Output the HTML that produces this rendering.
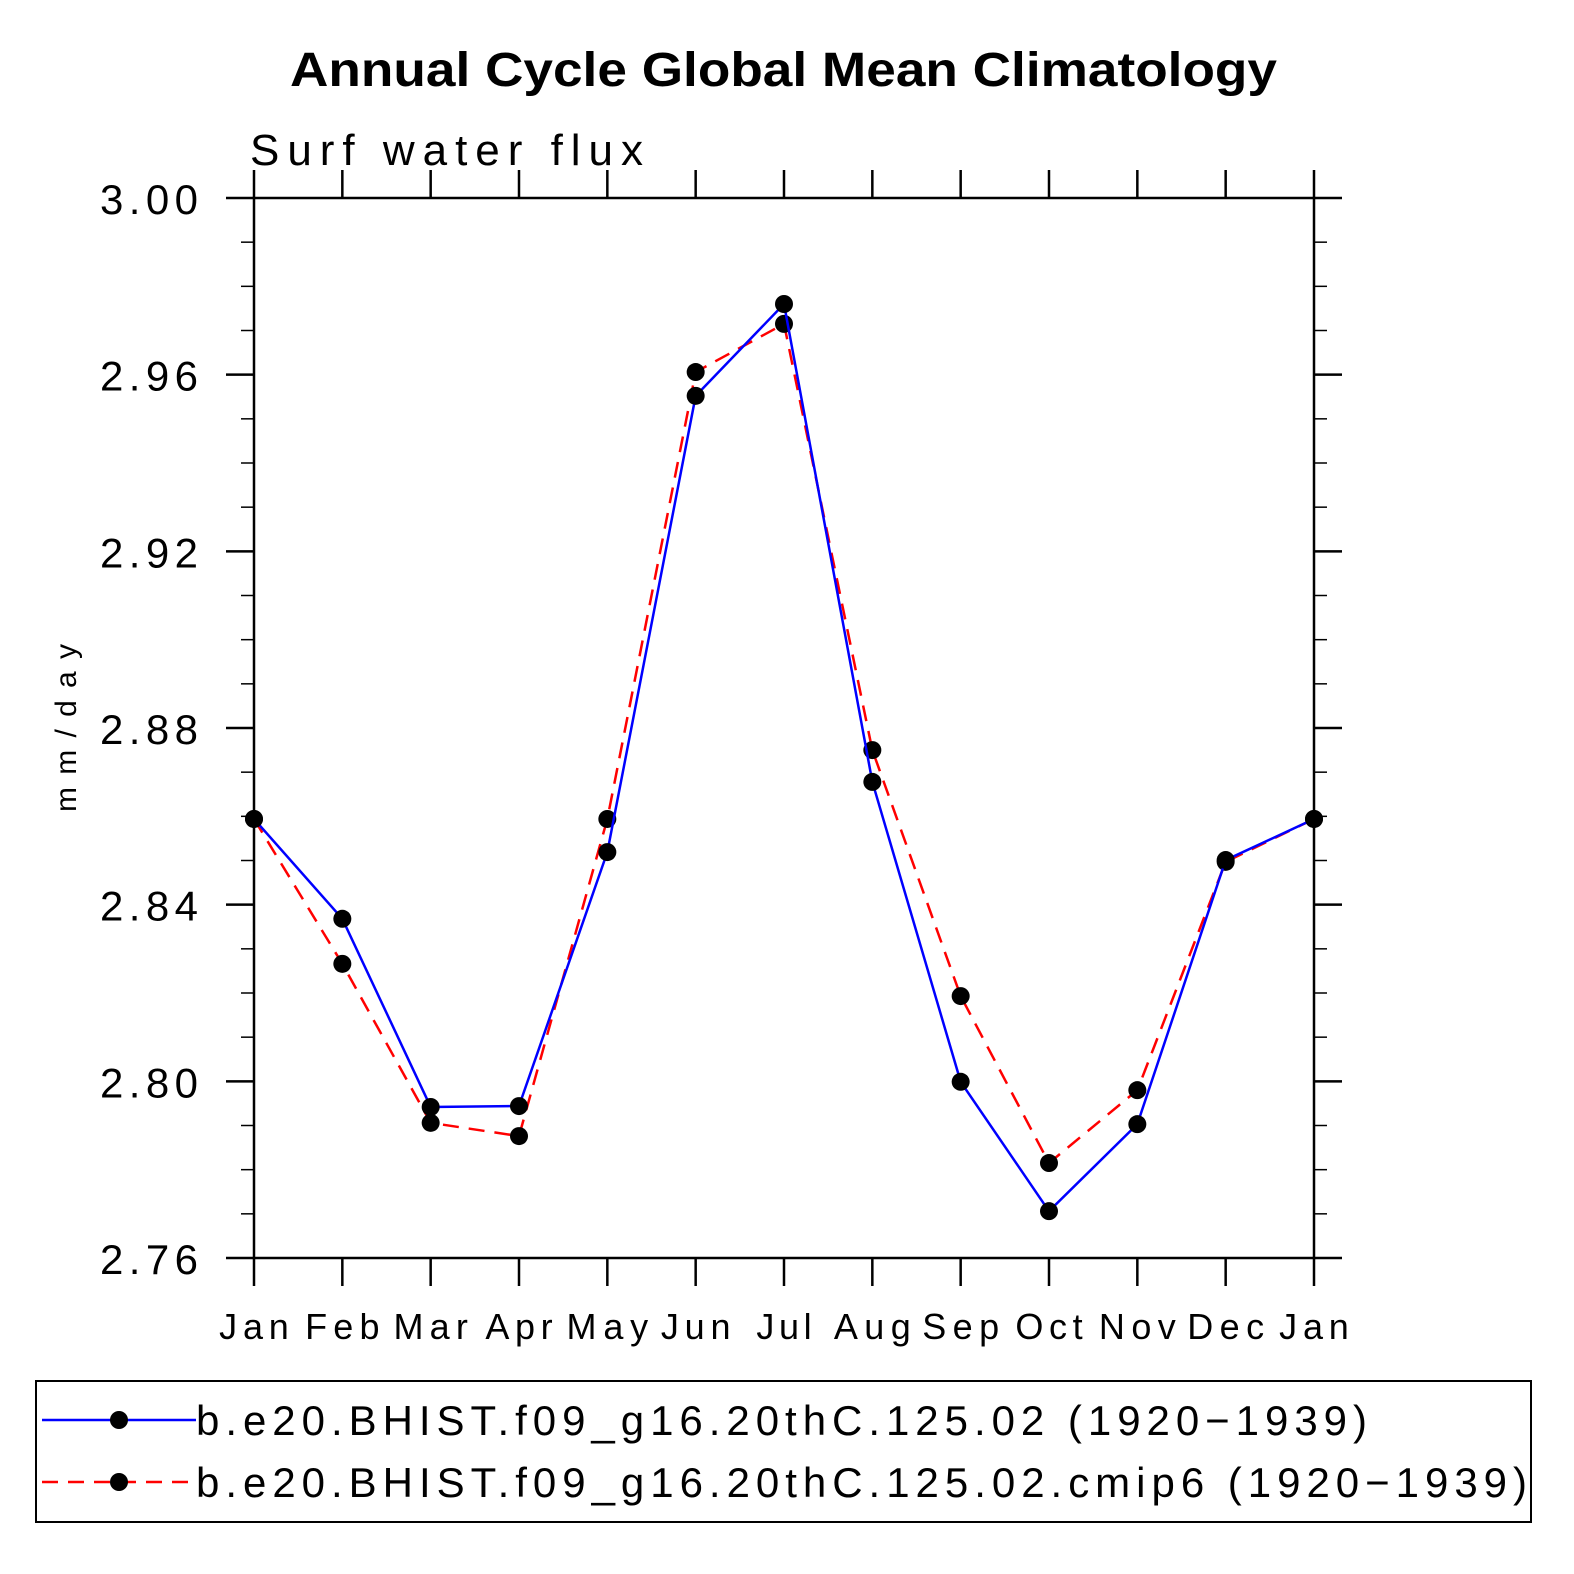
<!DOCTYPE html>
<html><head><meta charset="utf-8"><style>body{margin:0;background:#fff}svg{display:block}</style></head>
<body>
<svg id="chart" width="1574" height="1574" xmlns="http://www.w3.org/2000/svg" font-family="Liberation Sans, sans-serif">
<rect width="1574" height="1574" fill="#fff"/>
<text x="290" y="86" font-size="48" font-weight="bold" textLength="987" lengthAdjust="spacingAndGlyphs">Annual Cycle Global Mean Climatology</text>
<text x="250" y="165" font-size="44" textLength="393" lengthAdjust="spacing">Surf water flux</text>
<text transform="translate(76,728) rotate(-90)" font-size="30" text-anchor="middle" textLength="168" lengthAdjust="spacing">mm/day</text>
<g id="axes"></g>
<g id="series"></g>
<rect x="36" y="1381" width="1495" height="141" fill="none" stroke="#000" stroke-width="2"/>
<g>
<line x1="42" y1="1420" x2="196" y2="1420" stroke="#00f" stroke-width="2.5"/>
<circle cx="119" cy="1420" r="9"/>
<text x="196" y="1435" font-size="42" textLength="1171" lengthAdjust="spacing">b.e20.BHIST.f09_g16.20thC.125.02 (1920−1939)</text>
</g>
<g>
<line x1="42" y1="1482" x2="196" y2="1482" stroke="#f00" stroke-width="2.5" stroke-dasharray="16,10"/>
<circle cx="119" cy="1482" r="9"/>
<text x="196" y="1497" font-size="42" textLength="1331" lengthAdjust="spacing">b.e20.BHIST.f09_g16.20thC.125.02.cmip6 (1920−1939)</text>
</g>
</svg>
<script>
const months = ["Jan","Feb","Mar","Apr","May","Jun","Jul","Aug","Sep","Oct","Nov","Dec","Jan"];
const yTicks = [2.76,2.80,2.84,2.88,2.92,2.96,3.00];
const yTickLabels = ["2.76","2.80","2.84","2.88","2.92","2.96","3.00"];
const blueValues = [2.8594,2.8368,2.7942,2.7944,2.8519,2.9552,2.9760,2.8678,2.7999,2.7706,2.7903,2.8501,2.8594];
const redValues = [2.8594,2.8266,2.7906,2.7876,2.8594,2.9606,2.9715,2.8750,2.8193,2.7815,2.7980,2.8497,2.8594];
const NS="http://www.w3.org/2000/svg";
const X0=254,X1=1314,Y0=1258,Y1=198,YMIN=2.76,YMAX=3.00;
function xs(i){return X0+(X1-X0)*i/(months.length-1);}
function ys(v){return Y0-(v-YMIN)/(YMAX-YMIN)*(Y0-Y1);}
function mk(tag,attrs,parent){const e=document.createElementNS(NS,tag);for(const k in attrs)e.setAttribute(k,attrs[k]);parent.appendChild(e);return e;}
const ax=document.getElementById('axes');
const frame=mk('rect',{x:X0,y:Y1,width:X1-X0,height:Y0-Y1,fill:'none',stroke:'#000','stroke-width':2.5},ax);


for(let i=0;i<yTicks.length;i++){
  const y=ys(yTicks[i]);
  mk('line',{x1:X0-28,y1:y,x2:X0,y2:y,stroke:'#000','stroke-width':2.5},ax);
  mk('line',{x1:X1,y1:y,x2:X1+28,y2:y,stroke:'#000','stroke-width':2.5},ax);
  const t=mk('text',{x:100,y:y+16,'font-size':42,textLength:98,lengthAdjust:'spacing'},ax);
  t.textContent=yTickLabels[i];
  
  
}
for(let v=YMIN;v<YMAX-0.001;v+=0.01){
  const y=ys(v);
  mk('line',{x1:X0-13,y1:y,x2:X0,y2:y,stroke:'#000','stroke-width':1.5},ax);
  mk('line',{x1:X1,y1:y,x2:X1+13,y2:y,stroke:'#000','stroke-width':1.5},ax);
}
for(let i=0;i<months.length;i++){
  const x=xs(i);
  mk('line',{x1:x,y1:Y0,x2:x,y2:Y0+28,stroke:'#000','stroke-width':2.5},ax);
  mk('line',{x1:x,y1:Y1-28,x2:x,y2:Y1,stroke:'#000','stroke-width':2.5},ax);
  const t=mk('text',{x:x,y:1339,'font-size':36,'text-anchor':'middle'},ax);
  t.textContent=months[i];
  
  
  const w=t.getComputedTextLength();
  if(w>0){t.setAttribute('textLength',w*1.2);t.setAttribute('lengthAdjust','spacing');}
}
const sg=document.getElementById('series');
function draw(vals,color,dash,name){
  const pts=vals.map((v,i)=>xs(i)+','+ys(v)).join(' ');
  const l=mk('polyline',{points:pts,fill:'none',stroke:color,'stroke-width':2.5},sg);
  if(dash)l.setAttribute('stroke-dasharray',dash);
  
  
  vals.forEach((v,i)=>{
    const c=mk('circle',{cx:xs(i),cy:ys(v),r:9,fill:'#000'},sg);
    
    
  });
}
draw(redValues,'#f00','16,10','red-series');
draw(blueValues,'#00f',null,'blue-series');
</script>
</body></html>
